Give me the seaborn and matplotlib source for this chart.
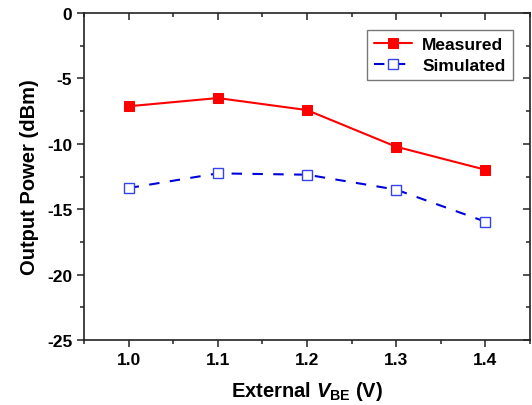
import matplotlib
matplotlib.use("Agg")
import matplotlib.pyplot as plt
from matplotlib.ticker import MultipleLocator
import seaborn as sns
import pandas as pd

vbe = [1.0, 1.1, 1.2, 1.3, 1.4]
measured = [-7.13, -6.5, -7.42, -10.22, -11.98]
simulated = [-13.38, -12.26, -12.36, -13.5, -15.95]
xtick_labels = ["1.0", "1.1", "1.2", "1.3", "1.4"]

df = pd.DataFrame({"vbe": vbe, "measured": measured, "simulated": simulated})

sns.set_theme(style="ticks")
plt.rcParams["font.family"] = ["Liberation Sans", "DejaVu Sans"]
plt.rcParams["font.weight"] = "bold"
plt.rcParams["axes.labelweight"] = "bold"
plt.rcParams["axes.unicode_minus"] = False
plt.rcParams["text.color"] = "black"
plt.rcParams["axes.labelcolor"] = "black"
plt.rcParams["xtick.color"] = "black"
plt.rcParams["ytick.color"] = "black"
plt.rcParams["mathtext.fontset"] = "custom"
plt.rcParams["mathtext.bf"] = "Liberation Sans:bold"
plt.rcParams["mathtext.it"] = "Liberation Sans:italic:bold"
plt.rcParams["mathtext.rm"] = "Liberation Sans:bold"

fig = plt.figure(figsize=(5.32, 4.06), dpi=100)
ax = fig.add_axes([0.158, 0.16, 0.838, 0.8055])

sns.lineplot(data=df, x="vbe", y="measured", ax=ax, color="#ff0000", lw=1.5,
             marker="s", markersize=7, markerfacecolor="#ff0000",
             markeredgecolor="#ff0000", label="Measured")
sns.lineplot(data=df, x="vbe", y="simulated", ax=ax, color="#0000dd", lw=1.5,
             linestyle=(0, (5, 5)), marker="s", markersize=7,
             markerfacecolor="white", markeredgecolor="#3344ee",
             markeredgewidth=1.0, label="Simulated")

ax.set_xlim(0.95, 1.45)
ax.set_ylim(-25, 0)
ax.set_xticks(vbe)
ax.set_xticklabels(xtick_labels)
ax.xaxis.set_minor_locator(MultipleLocator(0.05))
ax.yaxis.set_major_locator(MultipleLocator(5))
ax.yaxis.set_minor_locator(MultipleLocator(2.5))

for s in ax.spines.values():
    s.set_linewidth(1.2)
    s.set_color("#222222")

ax.tick_params(which="both", direction="out", labelsize=12.5, width=1.1,
               color="#222222", labelcolor="black")
ax.tick_params(which="major", length=5)
ax.tick_params(which="minor", length=3)

# mirrored ticks point inward on top and right
sec_x = ax.secondary_xaxis("top")
sec_x.set_xticks(vbe)
sec_x.xaxis.set_minor_locator(MultipleLocator(0.05))
sec_x.tick_params(which="both", direction="in", labeltop=False, width=1.1, color="#222222")
sec_x.tick_params(which="major", length=5)
sec_x.tick_params(which="minor", length=3)
sec_x.spines["top"].set_visible(False)
sec_y = ax.secondary_yaxis("right")
sec_y.yaxis.set_major_locator(MultipleLocator(5))
sec_y.yaxis.set_minor_locator(MultipleLocator(2.5))
sec_y.tick_params(which="both", direction="in", labelright=False, width=1.1, color="#222222")
sec_y.tick_params(which="major", length=5)
sec_y.tick_params(which="minor", length=3)
sec_y.spines["right"].set_visible(False)

for lab in ax.get_xticklabels() + ax.get_yticklabels():
    lab.set_fontweight("bold")

ax.set_xlabel("External $\\mathit{V}_{\\mathbf{BE}}$ (V)", fontsize=14.5, fontweight="bold", labelpad=9)
ax.set_ylabel("Output Power (dBm)", fontsize=14.5, fontweight="bold", labelpad=6)

leg = ax.legend(loc="upper right", frameon=True, fancybox=False,
                edgecolor="#555555", handlelength=2.2, borderaxespad=1.0,
                labelspacing=0.3, handletextpad=0.6,
                prop={"weight": "bold", "size": 12.5})
leg.get_frame().set_linewidth(1.0)

fig.savefig("out.png", dpi=100)
